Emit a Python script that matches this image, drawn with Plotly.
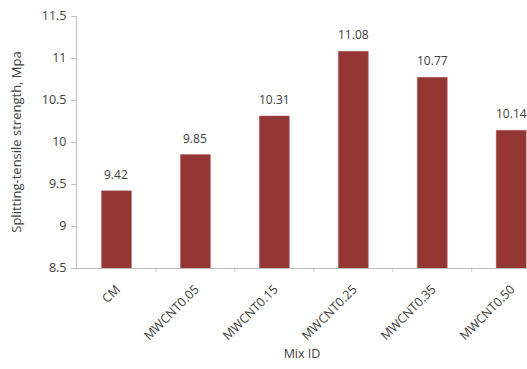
import plotly.graph_objects as go

categories = ["CM", "MWCNT0.05", "MWCNT0.15", "MWCNT0.25", "MWCNT0.35", "MWCNT0.50"]
values = [9.42, 9.85, 10.31, 11.08, 10.77, 10.14]
y_ticks = [8.5, 9, 9.5, 10, 10.5, 11, 11.5]

font_family = "Open Sans, Liberation Sans, sans-serif"
label_color = "#404040"

fig = go.Figure()
fig.add_trace(go.Bar(
    x=list(range(len(categories))),
    y=values,
    width=0.38,
    marker=dict(color="#943634", line=dict(color="#b06664", width=0.5)),
    cliponaxis=False,
))

for i, v in enumerate(values):
    fig.add_annotation(x=i, y=v, text=f"{v:g}", showarrow=False,
                       yanchor="bottom", yshift=6,
                       font=dict(size=12, color=label_color, family=font_family))

fig.update_layout(
    width=527, height=369,
    margin=dict(l=77, r=0, t=16, b=101),
    paper_bgcolor="white", plot_bgcolor="white",
    showlegend=False,
    font=dict(family=font_family, color=label_color, size=12),
    xaxis=dict(
        range=[-0.5, 5.2],
        tickmode="array",
        tickvals=list(range(len(categories))),
        ticktext=categories,
        tickangle=-45,
        tickfont=dict(size=12.5, color=label_color),
        ticklabelstandoff=8,
        showline=True, linecolor="#bfbfbf", linewidth=1,
        ticks="", showgrid=False, zeroline=False,
        title=dict(text="Mix ID", font=dict(size=12.5, color=label_color), standoff=6),
    ),
    yaxis=dict(
        range=[8.5, 11.5],
        tickmode="array",
        tickvals=y_ticks,
        ticktext=[f"{t:g}" for t in y_ticks],
        tickfont=dict(size=12.5, color=label_color),
        ticklabelstandoff=2,
        showline=True, linecolor="#bfbfbf", linewidth=1,
        ticks="outside", ticklen=5, tickcolor="#bfbfbf",
        showgrid=False, zeroline=False,
        title=dict(text="Splitting-tensile strength, Mpa", font=dict(size=13, color=label_color), standoff=17),
    ),
)

# category boundary tick marks on x-axis
for k in range(1, len(categories)):
    fig.add_shape(type="line", xref="x", yref="paper",
                  x0=k - 0.5, x1=k - 0.5, y0=0, y1=-0.015,
                  line=dict(color="#bfbfbf", width=1))

fig.write_html("out.html")
